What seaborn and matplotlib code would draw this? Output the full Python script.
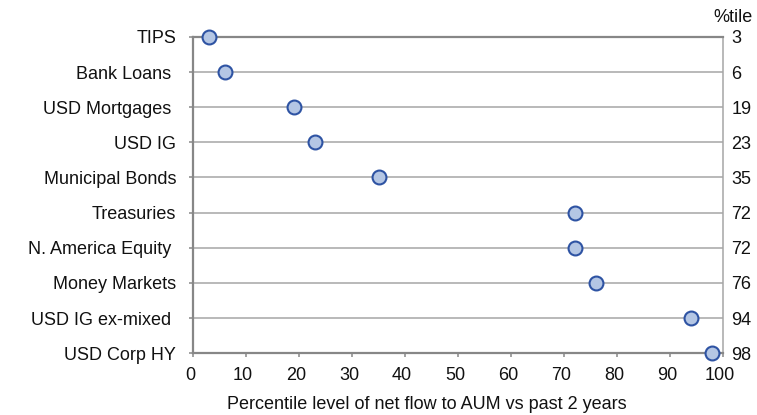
import matplotlib
matplotlib.use("Agg")
import matplotlib.pyplot as plt
import matplotlib.transforms as mtransforms
import seaborn as sns
import pandas as pd

categories = ["TIPS", "Bank Loans ", "USD Mortgages ", "USD IG", "Municipal Bonds",
              "Treasuries", "N. America Equity ", "Money Markets", "USD IG ex-mixed ",
              "USD Corp HY"]
percentiles = [3, 6, 19, 23, 35, 72, 72, 76, 94, 98]
x_ticks = [0, 10, 20, 30, 40, 50, 60, 70, 80, 90, 100]

df = pd.DataFrame({"asset": categories, "pct": percentiles})

sns.set_theme(style="white")
plt.rcParams["font.family"] = ["Liberation Sans", "DejaVu Sans"]
plt.rcParams["font.size"] = 13

FS = 13
TXT = "#111111"

fig = plt.figure(figsize=(7.57, 4.15), dpi=100)
ax = fig.add_axes([0.255, 0.149, 0.700, 0.762])

sns.stripplot(data=df, x="pct", y="asset", order=categories, jitter=False,
              color="#b4c6e4", edgecolor="#2e53a3", linewidth=1.5, size=10,
              ax=ax, zorder=5)
for c in ax.collections:
    c.set_clip_on(False)

n = len(categories)
ax.set_xlim(0, 100)
ax.set_ylim(n - 1, 0)
ax.set_xticks(x_ticks)
ax.set_xlabel("Percentile level of net flow to AUM vs past 2 years", fontsize=FS,
              color=TXT)
ax.xaxis.set_label_coords(0.4415, -0.135)
ax.set_ylabel("")

ax.grid(axis="y", color="#a6a6a6", linewidth=1.1)
ax.grid(axis="x", visible=False)
ax.set_axisbelow(True)

for side in ["left", "bottom", "top"]:
    ax.spines[side].set_color("#878787")
    ax.spines[side].set_linewidth(1.6)
ax.spines["right"].set_color("#a6a6a6")
ax.spines["right"].set_linewidth(1.1)

ax.tick_params(axis="y", left=True, length=3, width=1.1, color="#878787",
               pad=9, labelsize=FS, labelcolor=TXT)
ax.tick_params(axis="x", bottom=True, length=3, width=1.1, color="#878787",
               pad=7, labelsize=FS, labelcolor=TXT)
shift = mtransforms.ScaledTranslation(-3 / 100, 0, fig.dpi_scale_trans)
for lbl in ax.get_xticklabels():
    lbl.set_transform(lbl.get_transform() + shift)

# right-hand value column
ax2 = ax.twinx()
ax2.set_ylim(ax.get_ylim())
ax2.set_yticks(range(n))
ax2.set_yticklabels([str(v) for v in percentiles])
ax2.tick_params(axis="y", right=False, length=0, pad=6, labelsize=FS,
                labelcolor=TXT)
for s in ax2.spines.values():
    s.set_visible(False)
ax2.grid(False)

fig.text(713 / 757, 1 - 17 / 415, "%tile", fontsize=FS, color=TXT,
         ha="left", va="center")

fig.savefig("out.png", dpi=100)
